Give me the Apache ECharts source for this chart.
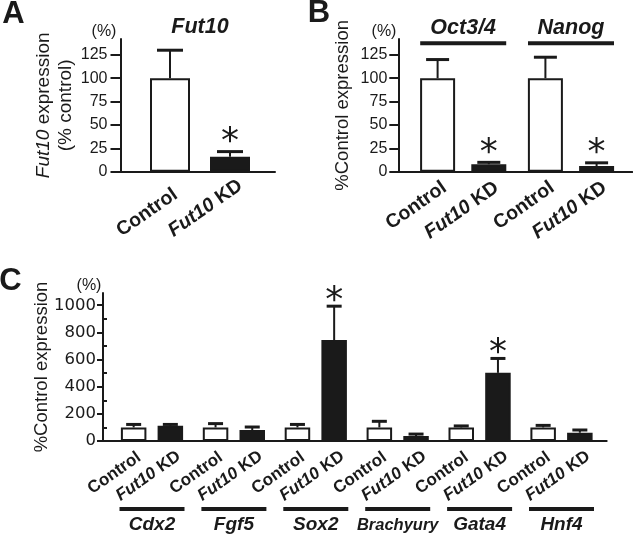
<!DOCTYPE html>
<html>
<head>
<meta charset="utf-8">
<script src="https://cdn.jsdelivr.net/npm/echarts@6/dist/echarts.min.js"></script>
<style>html,body{margin:0;padding:0;background:#fff}#c{width:633px;height:540px}</style>
</head>
<body>
<div id="c"></div>
<script>
// ---------------- data ----------------
const groupNames = ['Control', 'Fut10 KD'];

const aGenes = ['Fut10'];
const aControlMean = [100];
const aControlErr = [30];
const aKdMean = [16];
const aKdErr = [5.5];
const aKdSig = [1];
const aTicks = [0, 25, 50, 75, 100, 125];

const bGenes = ['Oct3/4', 'Nanog'];
const bControlMean = [100, 100];
const bControlErr = [20, 22.5];
const bKdMean = [8, 6];
const bKdErr = [2, 3.5];
const bKdSig = [1, 1];
const bTicks = [0, 25, 50, 75, 100, 125];

const cGenes = ['Cdx2', 'Fgf5', 'Sox2', 'Brachyury', 'Gata4', 'Hnf4'];
const cControlMean = [100, 100, 100, 100, 100, 100];
const cControlErr = [22, 28, 22, 45, 11, 15];
const cKdMean = [112, 81, 743, 37, 502, 61];
const cKdErr = [10, 22, 250, 14, 106, 20];
const cKdSig = [0, 0, 1, 0, 1, 0];
const cTicks = [0, 200, 400, 600, 800, 1000];
const cMinorTicks = [100, 300, 500, 700, 900];

// ---------------- styling ----------------
const INK = '#1a1a1a';
const SANS = '"Liberation Sans", Arial, Helvetica, sans-serif';
const WIDE = '"DejaVu Sans", sans-serif';
const ROT = 35;

const option = {
  animation: false,
  textStyle: { fontFamily: SANS, color: INK },
  grid: [], xAxis: [], yAxis: [], series: [], graphic: []
};

function kdLabel() {
  const parts = groupNames[1].split(' ');
  return '{i|' + parts[0] + '} ' + parts.slice(1).join(' ');
}
// zrender applies a label offset in the rotated frame; convert a screen offset into it
function localOffset(o) {
  const t = ROT * Math.PI / 180, c = Math.cos(t), s = Math.sin(t);
  return [o[0] * c - o[1] * s, o[0] * s + o[1] * c];
}

function addPanel(p) {
  const fg = option.grid.push({ left: p.axisLeft, top: p.top, width: p.axisWidth, height: p.height }) - 1;
  const dg = option.grid.push({ left: p.dataLeft, top: p.top, width: p.dataWidth, height: p.height }) - 1;

  option.xAxis.push({
    gridIndex: fg, type: 'value', min: 0, max: 1,
    axisLine: { show: true, onZero: false, lineStyle: { color: INK, width: 2 } },
    axisTick: { show: false }, axisLabel: { show: false }, splitLine: { show: false }
  });
  option.yAxis.push({
    gridIndex: fg, type: 'value', min: 0, max: p.yMax,
    axisLine: { show: true, onZero: false, lineStyle: { color: INK, width: 2 } },
    axisTick: { show: true, length: p.tickLen, customValues: p.ticks, lineStyle: { color: INK, width: 2 } },
    axisLabel: { show: true, customValues: p.ticks, margin: p.labelMargin, color: INK, fontFamily: p.tickFont, fontSize: p.tickSize,
      formatter: v => String(v) },
    splitLine: { show: false },
    name: p.yName, nameLocation: 'middle', nameRotate: 90, nameGap: p.nameGap, nameMoveOverlap: false,
    nameTextStyle: {
      color: INK, fontFamily: SANS, fontSize: p.nameSize, lineHeight: p.nameLineHeight,
      rich: { i: { fontStyle: 'italic', color: INK, fontFamily: SANS, fontSize: p.nameSize, lineHeight: p.nameLineHeight } }
    }
  });
  if (p.minorTicks) {
    option.yAxis.push({
      gridIndex: fg, type: 'value', min: 0, max: p.yMax,
      axisLine: { show: false },
      axisTick: { show: true, length: p.minorLen, customValues: p.minorTicks, lineStyle: { color: INK, width: 2 } },
      axisLabel: { show: false }, splitLine: { show: false }
    });
  }

  const dx = option.xAxis.push({
    gridIndex: dg, type: 'category', data: p.genes, position: 'bottom',
    axisLine: { show: false }, axisTick: { show: false }, splitLine: { show: false },
    axisLabel: p.bottomHeader ? {
      show: true, interval: 0, margin: p.bottomHeader.margin,
      formatter: v => '{line|}\n{' + (v.length > 6 ? 'gs' : 'g') + '|' + v + '}',
      rich: {
        line: { width: p.bottomHeader.lineW, height: 4, lineHeight: 4, backgroundColor: INK },
        g: { fontSize: 19, fontWeight: 'bold', fontStyle: 'italic', fontFamily: SANS, color: INK, lineHeight: 28 },
        gs: { fontSize: 16.5, fontWeight: 'bold', fontStyle: 'italic', fontFamily: SANS, color: INK, lineHeight: 28 }
      }
    } : { show: false }
  }) - 1;
  if (p.topHeader) {
    option.xAxis.push({
      gridIndex: dg, type: 'category', data: p.genes, position: 'top',
      axisLine: { show: false }, axisTick: { show: false }, splitLine: { show: false },
      axisLabel: {
        show: true, interval: 0, margin: p.topHeader.margin,
        formatter: v => p.topHeader.lineW ? '{g|' + v + '}\n{line|}' : '{g|' + v + '}',
        rich: {
          line: { width: p.topHeader.lineW || 1, height: 4, lineHeight: 4, backgroundColor: INK },
          g: { fontSize: p.topHeader.size, fontWeight: 'bold', fontStyle: 'italic', fontFamily: SANS, color: INK, lineHeight: p.topHeader.lh }
        }
      }
    });
  }
  const dy = option.yAxis.push({ gridIndex: dg, type: 'value', min: 0, max: p.yMax, show: false }) - 1;

  const gapPct = ((p.spacing - p.barW) / p.barW * 100) + '%';
  const labelBase = {
    show: true, position: 'bottom', distance: 0, rotate: ROT,
    align: 'right', verticalAlign: 'middle',
    fontSize: p.labelSize, fontWeight: 'bold', fontFamily: SANS, color: INK
  };
  option.series.push({
    type: 'bar', xAxisIndex: dx, yAxisIndex: dy, data: p.ctrlMean, barWidth: p.barW, barGap: gapPct,
    itemStyle: { color: '#ffffff', borderColor: INK, borderWidth: 2 },
    label: Object.assign({}, labelBase, { offset: localOffset(p.ctrlOffset), formatter: groupNames[0] }), z: 2
  });
  option.series.push({
    type: 'bar', xAxisIndex: dx, yAxisIndex: dy, data: p.kdMean, barWidth: p.barW, barGap: gapPct,
    itemStyle: { color: INK, borderColor: INK, borderWidth: 2 },
    label: Object.assign({}, labelBase, {
      offset: localOffset(p.kdOffset),
      formatter: kdLabel(),
      rich: { i: { fontStyle: 'italic', fontWeight: 'bold', fontSize: p.labelSize, fontFamily: SANS, color: INK } }
    }), z: 2
  });

  function errSeries(mean, err, sig, shift) {
    return {
      type: 'custom', xAxisIndex: dx, yAxisIndex: dy, z: 5, silent: true,
      data: mean.map((m, i) => [i, m, err[i], sig ? sig[i] : 0]),
      renderItem: (params, api) => {
        const c = api.value(0), m = api.value(1), e = api.value(2), s = api.value(3);
        const base = api.coord([c, m]);
        const top = api.coord([c, m + e]);
        const x = base[0] + shift;
        const ch = [
          { type: 'line', shape: { x1: x, y1: base[1], x2: x, y2: top[1] }, style: { stroke: INK, lineWidth: 2 } },
          { type: 'line', shape: { x1: x - p.cap / 2, y1: top[1], x2: x + p.cap / 2, y2: top[1] }, style: { stroke: INK, lineWidth: 3 } }
        ];
        if (s) {
          ch.push({ type: 'text', x: x, y: top[1] - p.starDy,
            style: { text: '*', fill: INK, font: p.starFont, textAlign: 'center', textVerticalAlign: 'middle' } });
        }
        return { type: 'group', children: ch };
      }
    };
  }
  option.series.push(errSeries(p.ctrlMean, p.ctrlErr, null, -p.spacing / 2));
  option.series.push(errSeries(p.kdMean, p.kdErr, p.kdSig, p.spacing / 2));
}

// Panel A
addPanel({
  genes: aGenes, ctrlMean: aControlMean, ctrlErr: aControlErr, kdMean: aKdMean, kdErr: aKdErr, kdSig: aKdSig,
  ticks: aTicks, yMax: 142,
  axisLeft: 120.5, axisWidth: 154.5, dataLeft: 140, dataWidth: 120, top: 39, height: 132.7,
  barW: 40, spacing: 60, cap: 26, ctrlOffset: [5.5, 21], kdOffset: [10.5, 12], labelSize: 19.5,
  tickLen: 10, labelMargin: 13, tickFont: SANS, tickSize: 16,
  yName: '{i|Fut10} expression\n(% control)', nameGap: 44, nameSize: 19, nameLineHeight: 22,
  topHeader: { margin: 1, size: 21.5, lh: 22 },
  starFont: '36px "DejaVu Sans"', starDy: 9
});

// Panel B
addPanel({
  genes: bGenes, ctrlMean: bControlMean, ctrlErr: bControlErr, kdMean: bKdMean, kdErr: bKdErr, kdSig: bKdSig,
  ticks: bTicks, yMax: 142,
  axisLeft: 398.3, axisWidth: 234, dataLeft: 409.3, dataWidth: 215.6, top: 39, height: 132.7,
  barW: 35, spacing: 51.2, cap: 23, ctrlOffset: [7, 14], kdOffset: [8, 14], labelSize: 19.5,
  tickLen: 9, labelMargin: 11, tickFont: SANS, tickSize: 16,
  yName: '%Control expression', nameGap: 44, nameSize: 18.5, nameLineHeight: 22,
  topHeader: { margin: -6.3, size: 21.5, lh: 26, lineW: 86 },
  starFont: '36px "DejaVu Sans"', starDy: 9
});

// Panel C
addPanel({
  genes: cGenes, ctrlMean: cControlMean, ctrlErr: cControlErr, kdMean: cKdMean, kdErr: cKdErr, kdSig: cKdSig,
  ticks: cTicks, minorTicks: cMinorTicks, minorLen: 4, yMax: 1090,
  axisLeft: 103, axisWidth: 503.7, dataLeft: 111.05, dataWidth: 491.4, top: 293, height: 148,
  barW: 25.5, spacing: 36.7, cap: 15, ctrlOffset: [5.5, 14.7], kdOffset: [8.5, 13.7], labelSize: 17,
  tickLen: 6, labelMargin: 7, tickFont: WIDE, tickSize: 16.5,
  yName: '%Control expression', nameGap: 50, nameSize: 18.5, nameLineHeight: 22,
  bottomHeader: { margin: 66, lineW: 65 },
  starFont: '36px "DejaVu Sans"', starDy: 5
});

function txt(t, x, y, font) {
  option.graphic.push({ type: 'text', x: x, y: y, silent: true,
    style: { text: t, font: font, fill: INK, textAlign: 'center', textVerticalAlign: 'middle' } });
}
txt('A', 13.5, 14, 'bold 31px ' + SANS);
txt('B', 319, 13, 'bold 31px ' + SANS);
txt('C', 10.5, 281, 'bold 31px ' + SANS);
txt('(%)', 104, 31.5, '16px ' + SANS);
txt('(%)', 384, 31.5, '16px ' + SANS);
txt('(%)', 89, 286, '16px ' + SANS);

const chart = echarts.init(document.getElementById('c'), null, { renderer: 'canvas' });
chart.setOption(option);
</script>
</body>
</html>
